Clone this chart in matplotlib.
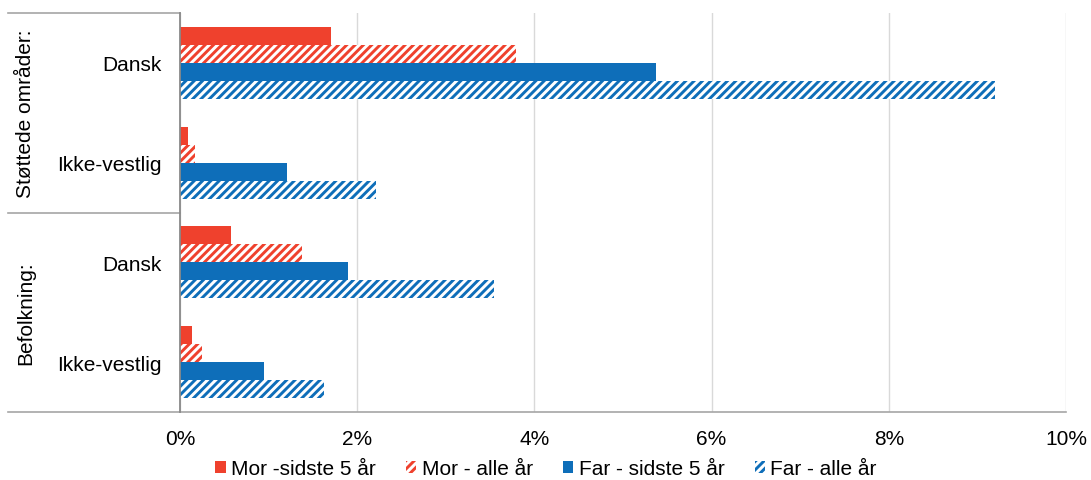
import numpy as np
import matplotlib
matplotlib.use("Agg")
import matplotlib.pyplot as plt
from matplotlib.lines import Line2D

plt.rcParams['font.family'] = ['Liberation Sans', 'DejaVu Sans']
plt.rcParams['hatch.linewidth'] = 2.1

# data (percent)
categories = ["Dansk", "Ikke-vestlig", "Dansk", "Ikke-vestlig"]
groups = ["Støttede områder:", "Befolkning:"]
series = ["Mor -sidste 5 år", "Mor - alle år", "Far - sidste 5 år", "Far - alle år"]
mor_5 = [1.70, 0.09, 0.58, 0.14]
mor_alle = [3.79, 0.17, 1.38, 0.25]
far_5 = [5.37, 1.21, 1.90, 0.95]
far_alle = [9.20, 2.21, 3.54, 1.63]
xticks = [0, 2, 4, 6, 8, 10]

red = "#EF412D"
blue = "#0E6EB9"

fig = plt.figure(figsize=(10.91, 4.81), dpi=100)
ax = fig.add_axes([180 / 1091, 1 - 413 / 481, 886 / 1091, 399 / 481])

y = np.arange(len(categories))
h = 0.18
vals = [mor_5, mor_alle, far_5, far_alle]
cols = [red, red, blue, blue]
hatched = [False, True, False, True]
for i, (v, c, hz) in enumerate(zip(vals, cols, hatched)):
    pos = y + (i - 1.5) * h
    if hz:
        ax.barh(pos, v, height=h, color="white", edgecolor=c, hatch="////",
                linewidth=0, label=series[i], zorder=2)
    else:
        ax.barh(pos, v, height=h, color=c, linewidth=0, label=series[i], zorder=2)

ax.set_ylim(3.5, -0.5)
ax.set_xlim(0, 10)
ax.set_xticks(xticks)
ax.set_xticklabels([f"{t}%" for t in xticks], fontsize=15)
ax.set_yticks(y)
ax.set_yticklabels(categories, fontsize=15)
ax.tick_params(axis="y", length=0, pad=13)
ax.tick_params(axis="x", length=0, pad=12)
ax.grid(axis="x", color="#D9D9D9", linewidth=1, zorder=0)
for s in ["top", "right", "bottom"]:
    ax.spines[s].set_visible(False)
ax.spines["left"].set_color("#898989")
ax.spines["left"].set_linewidth(1.3)

# category group frame lines
lc = "#A6A6A6"
x0 = (8 - 180) / 886
for yy in [-0.5, 1.5]:
    ax.add_line(Line2D([x0, 0], [yy, yy], color=lc, lw=1.2, clip_on=False,
                       transform=ax.get_yaxis_transform()))
ax.add_line(Line2D([x0, 1], [3.5, 3.5], color=lc, lw=1.2, clip_on=False,
                   transform=ax.get_yaxis_transform()))
gx = (26 - 180) / 886
for g, yy in zip(groups, [0.5, 2.5]):
    ax.text(gx, yy, g, rotation=90, ha="center", va="center", fontsize=15,
            transform=ax.get_yaxis_transform())

handles, labels = ax.get_legend_handles_labels()
fig.legend(handles, labels, loc="center", bbox_to_anchor=(546 / 1091, 1 - 470 / 481),
           ncol=4, frameon=False, fontsize=15, handlelength=0.5, handleheight=0.5,
           handletextpad=0.25, columnspacing=1.45, borderpad=0, borderaxespad=0)

fig.savefig("out.png", dpi=100)
